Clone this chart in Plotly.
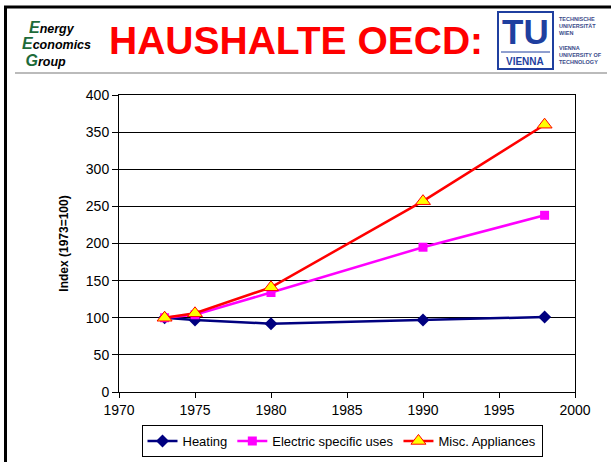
import plotly.graph_objects as go

years = [1973, 1975, 1980, 1990, 1998]
heating = [100, 97, 92, 97, 101]
electric_specific = [100, 104, 134, 195, 238]
misc_appliances = [100, 106, 141, 257, 360]

title_text = "HAUSHALTE OECD:"
y_title = "Index (1973=100)"

W, H = 611, 462
L, R, T, B = 119, 575, 95, 392  # plot area in pixels


def px(x):
    return (x - L) / (R - L)


def py(y):
    return (B - y) / (B - T)


fig = go.Figure()
fig.add_trace(go.Scatter(
    x=years, y=heating, name="Heating", mode="lines+markers",
    line=dict(color="#000080", width=2.5),
    marker=dict(symbol="diamond", size=10, color="#000080"),
))
fig.add_trace(go.Scatter(
    x=years, y=electric_specific, name="Electric specific uses", mode="lines+markers",
    line=dict(color="#FF00FF", width=2.5),
    marker=dict(symbol="square", size=9, color="#FF00FF"),
))
fig.add_trace(go.Scatter(
    x=years, y=misc_appliances, name="Misc. Appliances", mode="lines+markers",
    line=dict(color="#FF0000", width=2.5),
    marker=dict(symbol="triangle-up", size=13, color="#FFFF00", line=dict(color="#FF0000", width=1)),
))

blue = "#1F3F9F"
green = "#1E6B3A"
shapes = [
    # slide frame: thick black left and top edges
    dict(type="line", xref="paper", yref="paper", x0=px(5.5), x1=px(5.5), y0=py(6), y1=py(470),
         line=dict(color="black", width=3)),
    dict(type="line", xref="paper", yref="paper", x0=px(4), x1=px(615), y0=py(7), y1=py(7),
         line=dict(color="black", width=3)),
    # header separator
    dict(type="line", xref="paper", yref="paper", x0=px(15), x1=px(607), y0=py(73), y1=py(73),
         line=dict(color="#BBBBBB", width=2)),
    # TU logo box
    dict(type="rect", xref="paper", yref="paper", x0=px(498), x1=px(553), y0=py(12), y1=py(69),
         line=dict(color=blue, width=2)),
    dict(type="line", xref="paper", yref="paper", x0=px(501), x1=px(550), y0=py(52), y1=py(52),
         line=dict(color=blue, width=1)),
]


def big(letter):
    return f"<span style='font-size:16px;color:{green}'>{letter}</span>"


eeg_text = (
    f"&nbsp;&nbsp;{big('E')}nergy<br>"
    f"{big('E')}conomics<br>"
    f"&nbsp;{big('G')}roup"
)

annotations = [
    dict(text=title_text, xref="paper", yref="paper", x=px(296), y=py(41), xanchor="center", yanchor="middle",
         showarrow=False, font=dict(family="Liberation Sans, Arial", size=39, color="#FF0000", weight="bold")),
    # TU logo
    dict(text="TU", xref="paper", yref="paper", x=px(525), y=py(32), xanchor="center", yanchor="middle",
         showarrow=False, font=dict(family="Liberation Sans, Arial", size=35, color=blue, weight="bold")),
    dict(text="VIENNA", xref="paper", yref="paper", x=px(525), y=py(61), xanchor="center", yanchor="middle",
         showarrow=False, font=dict(family="Liberation Sans, Arial", size=10, color=blue, weight="bold")),
    dict(text="TECHNISCHE<br>UNIVERSITÄT<br>WIEN", xref="paper", yref="paper", x=px(557), y=py(14),
         xanchor="left", yanchor="top", align="left", showarrow=False,
         font=dict(family="Liberation Sans, Arial", size=5.5, color="#3A4A8A", weight="bold")),
    dict(text="VIENNA<br>UNIVERSITY OF<br>TECHNOLOGY", xref="paper", yref="paper", x=px(557), y=py(43),
         xanchor="left", yanchor="top", align="left", showarrow=False,
         font=dict(family="Liberation Sans, Arial", size=5.5, color="#3A4A8A", weight="bold")),
    # Energy Economics Group logo
    dict(text=f"<i>{eeg_text}</i>", xref="paper", yref="paper", x=px(20), y=py(44),
         xanchor="left", yanchor="middle", align="left", showarrow=False,
         font=dict(family="Liberation Sans, Arial", size=12.5, color="black", weight="bold")),
]

fig.update_layout(
    width=W, height=H,
    margin=dict(l=L, r=W - R, t=T, b=H - B, pad=0, autoexpand=False),
    paper_bgcolor="white", plot_bgcolor="white",
    font=dict(family="Liberation Sans, Arial", size=14, color="black"),
    shapes=shapes,
    annotations=annotations,
    legend=dict(
        orientation="h", x=px(342), y=py(425), xanchor="center", yanchor="top",
        bordercolor="black", borderwidth=1, bgcolor="white",
        font=dict(size=13), itemwidth=30, tracegroupgap=0,
    ),
    showlegend=True,
)
fig.update_xaxes(
    range=[1970, 2000], dtick=5, tick0=1970,
    showline=True, linecolor="black", linewidth=1, mirror=True,
    ticks="outside", ticklen=5, tickcolor="black",
    showgrid=False, zeroline=False,
)
fig.update_yaxes(
    range=[0, 400], dtick=50,
    showline=True, linecolor="black", linewidth=1, mirror=True,
    ticks="outside", ticklen=6, tickcolor="black",
    showgrid=True, gridcolor="black", gridwidth=1, zeroline=False,
    title=dict(text=f"<b>{y_title}</b>", font=dict(size=12), standoff=14),
)

fig.write_html(
    "out.html",
    config={"displayModeBar": False},
    post_script="document.body.style.margin='0';document.body.style.overflow='hidden';",
)
